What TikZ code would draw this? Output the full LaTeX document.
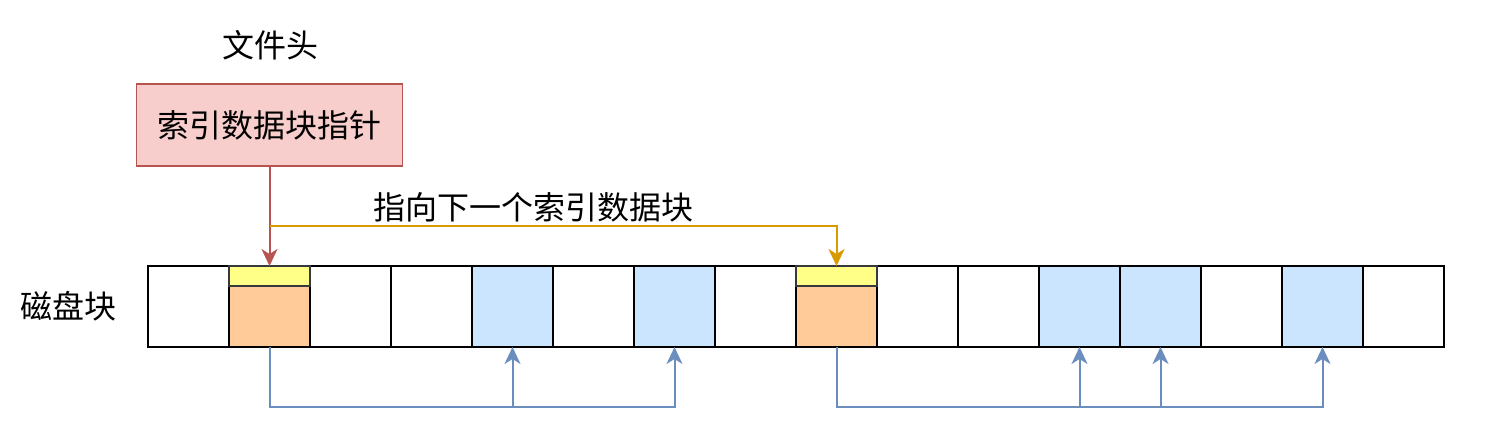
\documentclass[tikz,border=0pt]{standalone}
\usepackage{fontspec}
\setmainfont{Noto Sans CJK SC}
\usetikzlibrary{arrows.meta}

\definecolor{hdrfill}{HTML}{F8CECC}
\definecolor{hdrline}{HTML}{B85450}
\definecolor{ptrfill}{HTML}{FFFF88}
\definecolor{idxfill}{HTML}{FFCC99}
\definecolor{datafill}{HTML}{CCE5FF}
\definecolor{cellline}{HTML}{36393D}
\definecolor{nextline}{HTML}{D79B00}
\definecolor{dataline}{HTML}{6C8EBF}

\tikzset{
  cell/.style={draw=black, line width=1.8pt, minimum width=81pt, minimum height=81pt, inner sep=0pt, outer sep=0pt},
  ptrstrip/.style={draw=cellline, fill=ptrfill, line width=1.6pt, minimum width=81pt, minimum height=20pt, inner sep=0pt, outer sep=0pt},
  tip/.style={line width=2pt, -{Stealth[length=17pt, width=16pt, inset=5pt]}},
  label/.style={font=\fontsize{32pt}{36pt}\selectfont, inner sep=0pt}
}

\begin{document}
\begin{tikzpicture}[x=1pt, y=-1pt]
            \useasboundingbox (0,0) rectangle (1487,446);
            \def\cx{148}
            \def\cw{81}
            \def\cy{306.5}
            % disk blocks
            \foreach \i/\f in {1/white, 2/idxfill, 3/white, 4/white, 5/datafill, 6/white, 7/datafill, 8/white,
                               9/idxfill, 10/white, 11/white, 12/datafill, 13/datafill, 14/white, 15/datafill, 16/white} {
                \node[cell, fill=\f] (c\i) at ({\cx + (\i - 0.5) * \cw}, \cy) {};
            }
            \node[ptrstrip, anchor=north] (p2) at (c2.north) {};
            \node[ptrstrip, anchor=north] (p9) at (c9.north) {};
            \node[label] (disk) at (68, 306) {磁盘块};

            % file header
            \node[label] (title) at (270, 45) {文件头};
            \node[label, draw=hdrline, fill=hdrfill, line width=1.8pt, minimum width=266pt, minimum height=82pt] (hdr) at (269.5, 125) {索引数据块指针};
            \draw[hdrline, tip] (hdr.south) -- (p2.north);

            % next index block
            \coordinate (turn) at (269.5, 226);
            \draw[nextline, tip] (turn) -| (p9.north);
            \node[label] (next) at (533, 207) {指向下一个索引数据块};

            % data blocks
            \coordinate (base1) at (269.5, 407);
            \coordinate (base2) at (836.5, 407);
            \draw[dataline, tip] (c2.south) -- (base1) -| (c7.south);
            \draw[dataline, tip] (base1 -| c5.south) -- (c5.south);
            \draw[dataline, tip] (c9.south) -- (base2) -| (c15.south);
            \draw[dataline, tip] (base2 -| c12.south) -- (c12.south);
            \draw[dataline, tip] (base2 -| c13.south) -- (c13.south);
\end{tikzpicture}
\end{document}
